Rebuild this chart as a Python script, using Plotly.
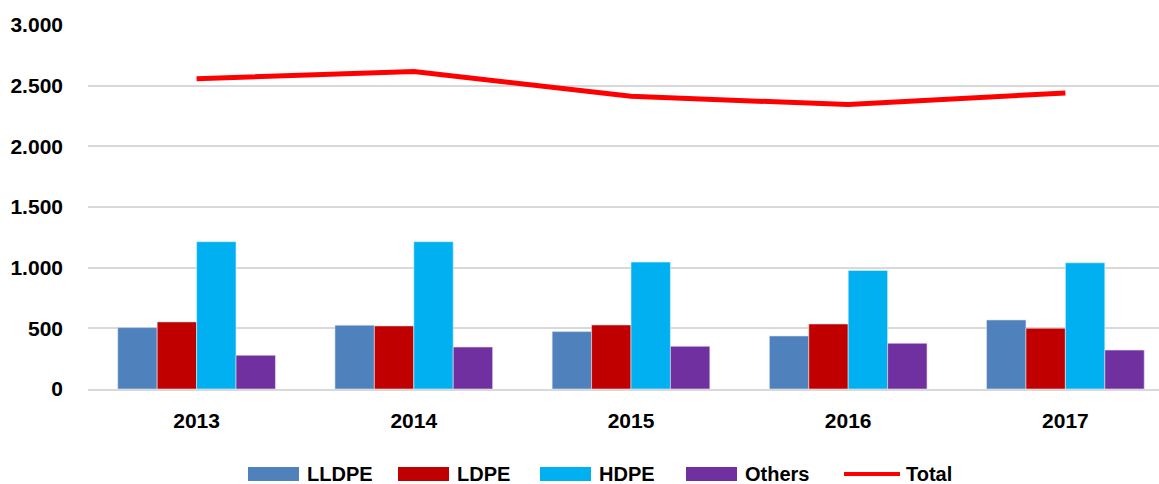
import plotly.graph_objects as go

years = ["2013", "2014", "2015", "2016", "2017"]
lldpe = [506, 526, 473, 437, 569]
ldpe = [553, 520, 528, 536, 501]
hdpe = [1214, 1214, 1046, 977, 1040]
others = [278, 346, 352, 377, 321]
total = [2557, 2617, 2412, 2344, 2440]

font_family = "Liberation Sans, Arial"
W, H = 1159, 484
L, R, T, B = 88, 0, 25, 95   # plot area margins (px)

fig = go.Figure()
bar_series = [
    ("LLDPE", lldpe, "#4F81BD", "#dce6f1"),
    ("LDPE", ldpe, "#C00000", "#f2dcdb"),
    ("HDPE", hdpe, "#00B0F0", "#d9f3fd"),
    ("Others", others, "#7030A0", "#e4dfec"),
]
for name, vals, col, edge in bar_series:
    fig.add_trace(go.Bar(x=years, y=vals, name=name, marker_color=col,
                         marker_line=dict(color=edge, width=0.6)))
fig.add_trace(go.Scatter(x=years, y=total, name="Total", mode="lines",
                         line=dict(color="#FF0000", width=5)))

# custom legend (wide swatches like the original)
pw, ph = W - L - R, H - T - B
def px_x(x):
    return (x - L) / pw
def px_y(y):
    return (H - B - y) / ph

legend_items = [("LLDPE", "#4F81BD", 248, "bar"), ("LDPE", "#C00000", 398, "bar"),
                ("HDPE", "#00B0F0", 540, "bar"), ("Others", "#7030A0", 686, "bar"),
                ("Total", "#FF0000", 844, "line")]
ly = 474
for name, col, x0, kind in legend_items:
    if kind == "bar":
        fig.add_shape(type="rect", xref="paper", yref="paper",
                      x0=px_x(x0), x1=px_x(x0 + 51), y0=px_y(ly + 7), y1=px_y(ly - 7),
                      fillcolor=col, line=dict(width=0))
    else:
        fig.add_shape(type="line", xref="paper", yref="paper",
                      x0=px_x(x0), x1=px_x(x0 + 56), y0=px_y(ly), y1=px_y(ly),
                      line=dict(color=col, width=4))
    tx = x0 + (57 if kind == "bar" else 60)
    fig.add_annotation(xref="paper", yref="paper", x=px_x(tx), y=px_y(ly),
                       xanchor="left", yanchor="middle", showarrow=False, text=name,
                       font=dict(size=20, family=font_family, weight="bold", color="black"))

fig.update_layout(
    width=W, height=H,
    margin=dict(l=L, r=R, t=T, b=B, autoexpand=False),
    paper_bgcolor="white", plot_bgcolor="white",
    barmode="group", bargap=0.274, bargroupgap=0,
    separators=",.",
    font=dict(family=font_family, size=21, color="black", weight="bold"),
    showlegend=False,
)
fig.update_xaxes(range=[-0.5, 4.431], showgrid=False, showline=True,
                 linecolor="#d9d9d9", linewidth=2, ticks="", ticklabelstandoff=12,
                 tickfont=dict(size=21, family=font_family, weight="bold"))
fig.update_yaxes(range=[0, 3000], dtick=500, tickformat=",.0f",
                 showgrid=True, gridcolor="#d9d9d9", gridwidth=1.5,
                 zeroline=False, ticks="", ticklabelstandoff=24,
                 tickfont=dict(size=21, family=font_family, weight="bold"))

fig.write_html("out.html", config={"displayModeBar": False},
               post_script="document.body.style.margin='0';document.body.style.overflow='hidden';")
